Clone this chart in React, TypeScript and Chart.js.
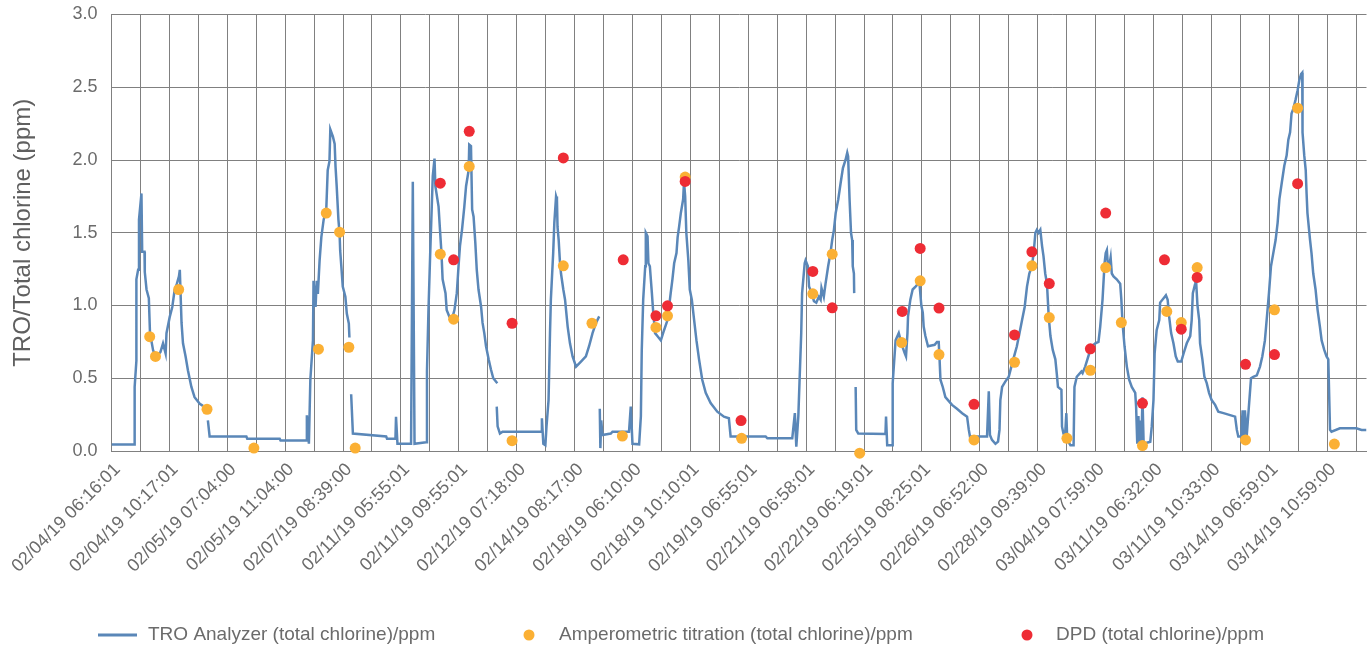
import { useEffect, useRef } from 'react';
import { Chart, registerables } from 'chart.js';

Chart.register(...registerables);

// x-axis tick labels (one label every second vertical grid line)
const tickLabels = [
  '02/04/19 06:16:01', '02/04/19 10:17:01', '02/05/19 07:04:00', '02/05/19 11:04:00',
  '02/07/19 08:39:00', '02/11/19 05:55:01', '02/11/19 09:55:01', '02/12/19 07:18:00',
  '02/14/19 08:17:00', '02/18/19 06:10:00', '02/18/19 10:10:01', '02/19/19 06:55:01',
  '02/21/19 06:58:01', '02/22/19 06:19:01', '02/25/19 08:25:01', '02/26/19 06:52:00',
  '02/28/19 09:39:00', '03/04/19 07:59:00', '03/11/19 06:32:00', '03/11/19 10:33:00',
  '03/14/19 06:59:01', '03/14/19 10:59:00',
];

const yTicks = [0, 0.5, 1, 1.5, 2, 2.5, 3];

// TRO analyzer trace (x in grid-interval units, null = gap in the record)
const troX = [
  0, 0.80, 0.80, 0.86, 0.86, 0.92, 0.95, 1.035, 1.06, 1.14, 1.15, 1.21, 1.29, 1.33, 1.44, 1.55, 1.69, 1.78, 1.87, 1.90,
  2.01, 2.10, 2.18, 2.26, 2.33, 2.36, 2.42, 2.47, 2.56, 2.64, 2.76, 2.87, 3.05, 3.16,
  3.24,
  3.33, 3.39, 4.66, 4.69, 5.81, 5.84, 6.73, 6.75, 6.82, 6.87, 6.96, 6.98, 7.05, 7.09, 7.13, 7.19, 7.25, 7.33, 7.42, 7.47,
  7.53, 7.56, 7.65, 7.71, 7.74, 7.78, 7.84, 7.88, 7.90, 7.94, 7.99, 8.08, 8.13, 8.20, 8.22,
  8.25,
  8.28, 8.34, 9.49, 9.52, 9.81, 9.83, 9.88, 10.35, 10.41, 10.47, 10.87, 10.90, 10.95, 11.01, 11.05, 11.10, 11.16, 11.19,
  11.30, 11.34, 11.40, 11.44, 11.54, 11.58, 11.67, 11.79, 11.85, 11.93, 11.99, 12.04, 12.11, 12.19, 12.25, 12.34, 12.36,
  12.42, 12.46, 12.51, 12.57, 12.62, 12.68, 12.77, 12.82, 12.88, 12.94, 13.03, 13.11, 13.19, 13.33,
  13.32,
  13.31, 13.34, 13.42, 13.51, 14.84, 14.87, 14.92, 14.99, 15.03, 15.10, 15.15, 15.18, 15.26, 15.30, 15.36, 15.39, 15.41,
  15.45, 15.49, 15.53, 15.61, 15.67, 15.76, 15.84, 15.93, 16.05, 16.22, 16.39, 16.50, 16.62, 16.74, 16.85,
  16.86,
  16.87, 16.89, 16.92, 16.96, 17.25, 17.31, 17.88, 17.94, 18.00, 18.23, 18.29, 18.32, 18.37, 18.44, 18.46, 18.52, 18.55,
  18.60, 18.67, 18.71, 18.78, 18.86, 18.98, 19.09, 19.21, 19.32, 19.38, 19.44, 19.52, 19.56, 19.61, 19.67, 19.75, 19.78,
  19.82, 19.86, 19.93, 19.98, 20.05, 20.13, 20.21, 20.30, 20.41, 20.53, 20.70, 20.93, 21.16, 21.33, 21.39, 22.60, 22.66,
  23.52, 23.61, 23.66, 23.73, 23.77, 23.83, 23.86, 23.95, 23.98, 24.06, 24.10, 24.19, 24.27, 24.35, 24.44, 24.50, 24.53,
  24.61, 24.67, 24.76, 24.84, 24.90, 24.96, 25.02, 25.11, 25.19, 25.27, 25.36, 25.42, 25.45, 25.50, 25.55, 25.59, 25.61,
  25.65, 25.66,
  25.68,
  25.71, 25.73, 25.80, 26.74, 26.76, 26.80, 26.97, 26.99, 27.09, 27.20, 27.32, 27.41, 27.45, 27.50, 27.52, 27.60, 27.68,
  27.78, 27.87, 27.92, 27.98, 28.03, 28.06, 28.12, 28.21, 28.44, 28.52, 28.58, 28.61, 28.64, 28.72, 28.81, 28.90, 29.04,
  29.21, 29.39, 29.56, 29.62, 29.66, 30.25, 30.31, 30.35, 30.42, 30.54, 30.63, 30.68, 30.71, 30.77, 30.88, 31.00, 31.09,
  31.17, 31.28, 31.37, 31.46, 31.55, 31.63, 31.71, 31.80, 31.86, 31.92, 31.97, 32.03, 32.09, 32.15, 32.20, 32.26, 32.32,
  32.38, 32.44, 32.52, 32.61, 32.66, 32.70, 32.82, 32.84, 32.89, 32.95, 32.99, 33.02, 33.13, 33.24, 33.27, 33.35, 33.51,
  33.55, 33.64, 33.78, 33.87, 33.99, 34.10, 34.16, 34.24, 34.31, 34.35, 34.39, 34.42, 34.47, 34.52, 34.56, 34.62, 34.73,
  34.85, 34.89, 34.93, 35.00, 35.08, 35.16, 35.25, 35.37, 35.40, 35.44, 35.48, 35.51, 35.54, 35.58, 35.62, 35.66, 35.89,
  35.94, 36.00, 36.04, 36.11, 36.20, 36.23, 36.35, 36.43, 36.49, 36.54, 36.61, 36.69, 36.77, 36.84, 36.96, 37.04, 37.15,
  37.27, 37.32, 37.36, 37.44, 37.47, 37.52, 37.58, 37.61, 37.69, 37.76, 37.84, 37.92, 38.01, 38.13, 38.24, 38.42, 38.59,
  38.82, 38.88, 38.93, 39.03, 39.08, 39.12, 39.16, 39.22, 39.28, 39.37, 39.45, 39.57, 39.68, 39.76, 39.85, 39.91, 39.99,
  40.06, 40.14, 40.22, 40.29, 40.35, 40.43, 40.52, 40.60, 40.66, 40.72, 40.77, 40.83, 40.91, 40.98, 41.04, 41.10, 41.14,
  41.15, 41.21, 41.26, 41.29, 41.32, 41.41, 41.46, 41.52, 41.60, 41.67, 41.75, 41.81, 41.90, 41.98, 42.04, 42.10, 42.15,
  42.44, 43.01, 43.19, 43.36,
];
const troY = [
  0.045, 0.045, 0.44, 0.62, 1.18, 1.245, 1.59, 1.77, 1.37, 1.37, 1.23, 1.11, 1.05, 0.81, 0.69, 0.65, 0.68, 0.74, 0.67, 0.81,
  0.92, 0.99, 1.105, 1.15, 1.20, 1.245, 0.88, 0.74, 0.65, 0.555, 0.44, 0.37, 0.325, 0.31,
  null,
  0.21, 0.10, 0.10, 0.085, 0.085, 0.073, 0.073, 0.245, 0.05, 0.49, 0.76, 1.17, 0.99, 1.17, 1.08, 1.31, 1.47, 1.59, 1.66, 1.93,
  1.99, 2.21, 2.16, 2.11, 1.955, 1.82, 1.59, 1.495, 1.38, 1.27, 1.13, 1.06, 0.945, 0.876, 0.78,
  null,
  0.39, 0.12, 0.10, 0.085, 0.085, 0.235, 0.05, 0.05, 1.85, 0.05, 0.06, 0.55, 0.96, 1.35, 1.59, 1.89, 2.01, 1.82,
  1.68, 1.55, 1.36, 1.18, 1.085, 0.97, 0.925, 0.925, 0.97, 1.085, 1.27, 1.41, 1.52, 1.68, 1.82, 1.93, 2.105,
  2.095, 1.66, 1.61, 1.43, 1.245, 1.11, 0.99, 0.88, 0.81, 0.72, 0.63, 0.56, 0.50, 0.466,
  null,
  0.305, 0.17, 0.12, 0.133, 0.133, 0.225, 0.05, 0.04, 0.17, 0.35, 0.81, 1.04, 1.36, 1.57, 1.75, 1.73, 1.54,
  1.45, 1.31, 1.22, 1.11, 1.04, 0.855, 0.74, 0.65, 0.58, 0.615, 0.65, 0.72, 0.81, 0.88, 0.925,
  null,
  0.29, 0.02, 0.21, 0.11, 0.12, 0.133, 0.133, 0.305, 0.05, 0.046, 0.24, 0.69, 1.04, 1.27, 1.50, 1.475, 1.29,
  1.27, 1.085, 0.97, 0.81, 0.79, 0.76, 0.83, 0.90, 1.085, 1.18, 1.29, 1.36, 1.47, 1.54, 1.635, 1.73, 1.85,
  1.75, 1.50, 1.31, 1.11, 1.04, 0.90, 0.76, 0.63, 0.49, 0.40, 0.33, 0.27, 0.236, 0.225, 0.10, 0.10, 0.087,
  0.087, 0.26, 0.03, 0.24, 0.47, 0.81, 1.085, 1.29, 1.31, 1.27, 1.13, 1.085, 1.03, 1.02, 1.06, 1.04, 1.12,
  1.06, 1.15, 1.27, 1.36, 1.45, 1.52, 1.635, 1.73, 1.84, 1.945, 2.00, 2.05, 2.025, 1.73, 1.50, 1.45, 1.27,
  1.22, 1.085,
  null,
  0.44, 0.145, 0.12, 0.117, 0.236, 0.04, 0.04, 0.466, 0.76, 0.81, 0.72, 0.67, 0.65, 0.81, 0.925, 1.04, 1.11,
  1.13, 1.15, 1.14, 1.00, 0.95, 0.855, 0.79, 0.72, 0.73, 0.75, 0.75, 0.63, 0.49, 0.44, 0.37, 0.35, 0.317,
  0.29, 0.26, 0.236, 0.145, 0.10, 0.10, 0.41, 0.11, 0.076, 0.05, 0.064, 0.145, 0.35, 0.44, 0.477, 0.51, 0.58,
  0.64, 0.72, 0.81, 0.90, 0.99, 1.13, 1.22, 1.27, 1.36, 1.50, 1.52, 1.50, 1.52, 1.41, 1.34, 1.22, 1.15,
  0.925, 0.79, 0.695, 0.63, 0.53, 0.44, 0.42, 0.167, 0.12, 0.12, 0.26, 0.076, 0.04, 0.04, 0.44, 0.51, 0.546,
  0.535, 0.58, 0.67, 0.72, 0.74, 0.75, 0.855, 1.04, 1.29, 1.36, 1.38, 1.29, 1.27, 1.33, 1.22, 1.20, 1.18,
  1.15, 1.04, 0.88, 0.72, 0.58, 0.49, 0.44, 0.40, 0.305, 0.05, 0.24, 0.03, 0.21, 0.03, 0.37, 0.05, 0.064,
  0.167, 0.35, 0.67, 0.83, 0.90, 1.02, 1.05, 1.07, 1.04, 0.925, 0.81, 0.74, 0.65, 0.615, 0.615, 0.67, 0.74,
  0.79, 0.90, 1.085, 1.15, 1.18, 1.00, 0.90, 0.74, 0.63, 0.51, 0.466, 0.40, 0.35, 0.317, 0.27, 0.26, 0.25,
  0.236, 0.145, 0.10, 0.10, 0.28, 0.076, 0.28, 0.10, 0.26, 0.50, 0.51, 0.52, 0.58, 0.65, 0.76, 0.90, 1.085,
  1.27, 1.36, 1.45, 1.57, 1.73, 1.84, 1.96, 2.03, 2.14, 2.19, 2.32, 2.35, 2.415, 2.48, 2.55, 2.59, 2.60,
  2.19, 2.03, 1.93, 1.77, 1.635, 1.45, 1.36, 1.22, 1.11, 0.97, 0.855, 0.76, 0.695, 0.65, 0.63, 0.145, 0.133,
  0.156, 0.156, 0.145, 0.145,
];

// Amperometric titration samples
const ampX = [
  1.32, 1.52, 2.32, 3.30, 4.92, 7.15, 7.42, 7.88, 8.20, 8.42, 11.36, 11.82, 12.36, 13.84, 15.61, 16.60, 17.65, 18.81,
  19.21, 19.82, 21.77, 24.23, 24.90, 25.85, 27.30, 27.94, 28.59, 29.80, 31.20, 31.80, 32.40, 33.01, 33.82, 34.35, 34.89,
  35.62, 36.46, 36.96, 37.51, 39.18, 40.18, 40.98, 42.25,
];
const ampY = [
  0.786, 0.65, 1.11, 0.287, 0.02, 0.70, 1.635, 1.504, 0.713, 0.02, 1.353, 0.906, 1.956, 0.071, 1.273, 0.878, 0.103, 0.849,
  0.929, 1.883, 0.087, 1.08, 1.353, -0.015, 0.745, 1.17, 0.663, 0.076, 0.61, 1.273, 0.917, 0.087, 0.555, 1.261, 0.883,
  0.037, 0.959, 0.883, 1.261, 0.076, 0.97, 2.356, 0.048,
];

// DPD samples
const dpdX = [
  11.36, 11.82, 12.36, 13.84, 15.61, 17.68, 18.81, 19.21, 19.82, 21.75, 24.23, 24.90, 27.32, 27.94, 28.59, 29.80, 31.20,
  31.80, 32.40, 33.82, 34.35, 35.62, 36.38, 36.96, 37.51, 39.18, 40.18, 40.98,
];
const dpdY = [
  1.841, 1.314, 2.197, 0.878, 2.014, 1.314, 0.929, 0.998, 1.853, 0.209, 1.234, 0.984, 0.959, 1.392, 0.982, 0.321, 0.798,
  1.369, 1.151, 0.702, 1.635, 0.328, 1.314, 0.837, 1.193, 0.596, 0.663, 1.837,
];

const seriesNames = [
  'TRO Analyzer (total chlorine)/ppm',
  'Amperometric titration (total chlorine)/ppm',
  'DPD (total chlorine)/ppm',
];

const BLUE = '#5a87b8';
const ORANGE = '#fbb034';
const RED = '#ee2c35';
const GRID = '#808080';
const TEXT = '#6b6b6b';
const FONT = '"Liberation Sans", Arial, Helvetica, sans-serif';

const legendPlugin = {
  id: 'bottomLegend',
  afterDraw(chart: any) {
    const ctx = chart.ctx as CanvasRenderingContext2D;
    const y = 635;
    ctx.save();
    ctx.font = `19px ${FONT}`;
    ctx.fillStyle = TEXT;
    ctx.textBaseline = 'middle';
    ctx.textAlign = 'left';
    ctx.strokeStyle = BLUE;
    ctx.lineWidth = 3;
    ctx.beginPath();
    ctx.moveTo(98, y);
    ctx.lineTo(137, y);
    ctx.stroke();
    ctx.fillText(seriesNames[0], 148, y);
    ctx.fillStyle = ORANGE;
    ctx.beginPath();
    ctx.arc(529, y, 5.5, 0, Math.PI * 2);
    ctx.fill();
    ctx.fillStyle = TEXT;
    ctx.fillText(seriesNames[1], 559, y);
    ctx.fillStyle = RED;
    ctx.beginPath();
    ctx.arc(1027, y, 5.5, 0, Math.PI * 2);
    ctx.fill();
    ctx.fillStyle = TEXT;
    ctx.fillText(seriesNames[2], 1056, y);
    ctx.restore();
  },
};

export default function App() {
  const ref = useRef<HTMLCanvasElement | null>(null);

  useEffect(() => {
    if (!ref.current) return;
    const troData = troX.map((x, i) => ({ x, y: troY[i] }));
    const ampData = ampX.map((x, i) => ({ x, y: ampY[i] }));
    const dpdData = dpdX.map((x, i) => ({ x, y: dpdY[i] }));
    const nGrid = 2 * tickLabels.length; // 44 vertical grid lines (0..43)

    const chart = new Chart(ref.current, {
      type: 'scatter',
      data: {
        datasets: [
          {
            label: seriesNames[0],
            data: troData as any,
            showLine: true,
            borderColor: BLUE,
            backgroundColor: BLUE,
            borderWidth: 2.5,
            pointRadius: 0,
            tension: 0,
            spanGaps: false,
            order: 3,
          } as any,
          {
            label: seriesNames[1],
            data: ampData,
            backgroundColor: ORANGE,
            borderWidth: 0,
            pointRadius: 5.5,
            clip: false,
            order: 2,
          } as any,
          {
            label: seriesNames[2],
            data: dpdData,
            backgroundColor: RED,
            borderWidth: 0,
            pointRadius: 5.5,
            clip: false,
            order: 1,
          } as any,
        ],
      },
      options: {
        animation: false,
        responsive: false,
        events: [],
        layout: { padding: { left: 0, right: 4, top: 14.5, bottom: 0 } },
        plugins: { legend: { display: false }, tooltip: { enabled: false } },
        scales: {
          x: {
            type: 'linear',
            min: 0,
            max: 43.36,
            afterBuildTicks: (scale: any) => {
              scale.ticks = Array.from({ length: nGrid }, (_, i) => ({ value: i }));
            },
            afterFit: (scale: any) => {
              scale.height = 197;
              scale.paddingLeft = 0;
              scale.paddingRight = 0;
            },
            grid: { color: GRID, lineWidth: 1, drawTicks: false },
            border: { color: GRID, width: 1 },
            ticks: {
              autoSkip: false,
              maxRotation: 45,
              minRotation: 45,
              padding: 8,
              labelOffset: 6,
              color: TEXT,
              font: { family: FONT, size: 18 },
              callback: (v: any) => {
                const n = Number(v);
                return n % 2 === 0 && tickLabels[n / 2] !== undefined ? tickLabels[n / 2] : '';
              },
            },
          },
          y: {
            min: 0,
            max: 3,
            afterBuildTicks: (scale: any) => {
              scale.ticks = yTicks.map((value) => ({ value }));
            },
            afterFit: (scale: any) => {
              scale.width = 111.5;
              scale.paddingTop = 0;
              scale.paddingBottom = 0;
            },
            grid: { color: GRID, lineWidth: 1, drawTicks: false },
            border: { color: GRID, width: 1 },
            ticks: {
              padding: 14,
              color: TEXT,
              font: { family: FONT, size: 18 },
              callback: (v: any) => Number(v).toFixed(1),
            },
            title: {
              display: true,
              text: 'TRO/Total chlorine (ppm)',
              color: '#5f5f5f',
              font: { family: FONT, size: 24 },
              padding: { top: 9, bottom: 0 },
            },
          },
        },
      },
      plugins: [legendPlugin],
    });
    return () => chart.destroy();
  }, []);

  return (
    <div style={{ position: 'absolute', left: 0, top: 0, width: 1372, height: 648, background: '#fff' }}>
      <canvas ref={ref} width={1372} height={648} style={{ display: 'block' }} />
    </div>
  );
}
